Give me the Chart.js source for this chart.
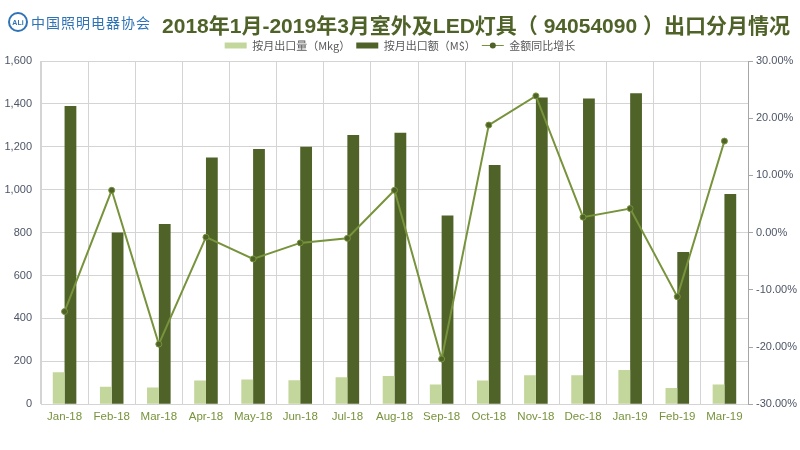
<!DOCTYPE html>
<html>
<head>
<meta charset="utf-8">
<script src="https://cdn.jsdelivr.net/npm/chart.js@4.4.1/dist/chart.umd.min.js"></script>
<style>
  html, body { margin: 0; padding: 0; background: #fff; }
  #wrap { position: relative; width: 800px; height: 450px; overflow: hidden; }
  #logo { position: absolute; left: 8px; top: 12px; display: flex; align-items: center; color: #2f73b6; }
  #logo .ring { width: 16px; height: 16px; border: 2px solid #2f73b6; border-radius: 50%;
    font: bold 7px "Liberation Sans", sans-serif; display: flex; align-items: center; justify-content: center; }
  #logo .name { font: 14px "Noto Sans CJK SC", sans-serif; margin-left: 3px; letter-spacing: 1px; }
  #title { position: absolute; left: 158px; top: 9px; width: 636px; text-align: center;
    font: bold 21px "Liberation Sans", "Noto Sans CJK SC", sans-serif; color: #4f6228; }
  #box { position: absolute; left: 0; top: 0; width: 800px; height: 450px; }
</style>
</head>
<body>
<div id="wrap">
  <div id="box"><canvas id="c"></canvas></div>
  <div id="logo"><div class="ring">ALi</div><div class="name">中国照明电器协会</div></div>
  <div id="title">2018年1月-2019年3月室外及LED灯具（ 94054090 ）出口分月情况</div>
</div>
<script>
// 数据
const months = ["Jan-18", "Feb-18", "Mar-18", "Apr-18", "May-18", "Jun-18", "Jul-18", "Aug-18",
  "Sep-18", "Oct-18", "Nov-18", "Dec-18", "Jan-19", "Feb-19", "Mar-19"];
const volume = [149, 81, 78, 110, 115, 112, 126, 131, 92, 110, 135, 135, 159, 76, 92];
const amount = [1390, 800, 840, 1150, 1190, 1200, 1255, 1265, 880, 1115, 1430, 1425, 1450, 710, 980];
const growth = [-13.8, 7.4, -19.5, -0.8, -4.6, -1.8, -1.0, 7.4, -22.1, 18.8, 23.9, 2.7, 4.2, -11.2, 16.0];
const leftTicks = [0, 200, 400, 600, 800, 1000, 1200, 1400, 1600];
const rightTicks = [-30, -20, -10, 0, 10, 20, 30];

const lightGreen = "#c3d69b";
const darkGreen = "#4f6228";
const lineGreen = "#77933c";
const gridColor = "#d4d4d4";
const tickColor = "#4d5566";

// 图例中折线的圆点
const legendDot = {
  id: "legendDot",
  afterDraw(chart) {
    const lg = chart.legend;
    if (!lg || !lg.legendHitBoxes[2]) return;
    const hb = lg.legendHitBoxes[2];
    const ctx = chart.ctx;
    ctx.save();
    ctx.beginPath();
    ctx.arc(hb.left + 11, hb.top + hb.height / 2, 3, 0, Math.PI * 2);
    ctx.fillStyle = darkGreen;
    ctx.fill();
    ctx.restore();
  }
};

const legendStyles = ["rect", "rect", "line"];

new Chart(document.getElementById("c"), {
  data: {
    labels: months,
    datasets: [
      {
        type: "bar",
        label: "按月出口量（Mkg）",
        data: volume,
        backgroundColor: lightGreen,
        yAxisID: "y",
        categoryPercentage: 0.5,
        barPercentage: 1.0,
        order: 1
      },
      {
        type: "bar",
        label: "按月出口额（M$）",
        data: amount,
        backgroundColor: darkGreen,
        yAxisID: "y",
        categoryPercentage: 0.5,
        barPercentage: 1.0,
        order: 1
      },
      {
        type: "line",
        label: "金额同比增长",
        data: growth,
        borderColor: lineGreen,
        backgroundColor: lineGreen,
        borderWidth: 2,
        pointRadius: 3,
        pointBackgroundColor: darkGreen,
        pointBorderColor: lineGreen,
        pointBorderWidth: 1,
        tension: 0,
        yAxisID: "y1",
        order: 0
      }
    ]
  },
  options: {
    responsive: true,
    maintainAspectRatio: false,
    animation: false,
    layout: { padding: { top: 34, left: 3, right: 3, bottom: 20 } },
    plugins: {
      tooltip: { enabled: false },
      legend: {
        position: "top",
        labels: {
          usePointStyle: true,
          pointStyleWidth: 22,
          boxHeight: 6,
          padding: 6,
          color: "#595959",
          font: { family: "'Noto Sans CJK SC', sans-serif", size: 11 },
          sort: (a, b) => a.datasetIndex - b.datasetIndex,
          generateLabels: (chart) =>
            Chart.defaults.plugins.legend.labels.generateLabels(chart).map((item) => {
              item.pointStyle = legendStyles[item.datasetIndex];
              return item;
            })
        }
      }
    },
    scales: {
      x: {
        grid: { color: gridColor, offset: true, drawTicks: false },
        border: { color: gridColor },
        ticks: {
          color: lineGreen,
          padding: 6,
          maxRotation: 0,
          autoSkip: false,
          font: { family: "'Liberation Sans', sans-serif", size: 11.5 }
        }
      },
      y: {
        position: "left",
        min: 0,
        max: 1600,
        afterBuildTicks: (axis) => { axis.ticks = leftTicks.map((v) => ({ value: v })); },
        afterFit: (axis) => { axis.width = 38; },
        grid: { color: gridColor, drawTicks: false },
        border: { color: gridColor },
        ticks: {
          color: tickColor,
          padding: 9,
          font: { family: "'Liberation Sans', sans-serif", size: 11 },
          callback: (v) => v.toLocaleString("en-US")
        }
      },
      y1: {
        position: "right",
        min: -30,
        max: 30,
        afterBuildTicks: (axis) => { axis.ticks = rightTicks.map((v) => ({ value: v })); },
        afterFit: (axis) => { axis.width = 49; },
        grid: { drawOnChartArea: false, color: "#a6a6a6", tickLength: 5 },
        border: { color: "#a6a6a6" },
        ticks: {
          color: tickColor,
          padding: 3,
          font: { family: "'Liberation Sans', sans-serif", size: 11 },
          callback: (v) => v.toFixed(2) + "%"
        }
      }
    }
  },
  plugins: [legendDot]
});
</script>
</body>
</html>
